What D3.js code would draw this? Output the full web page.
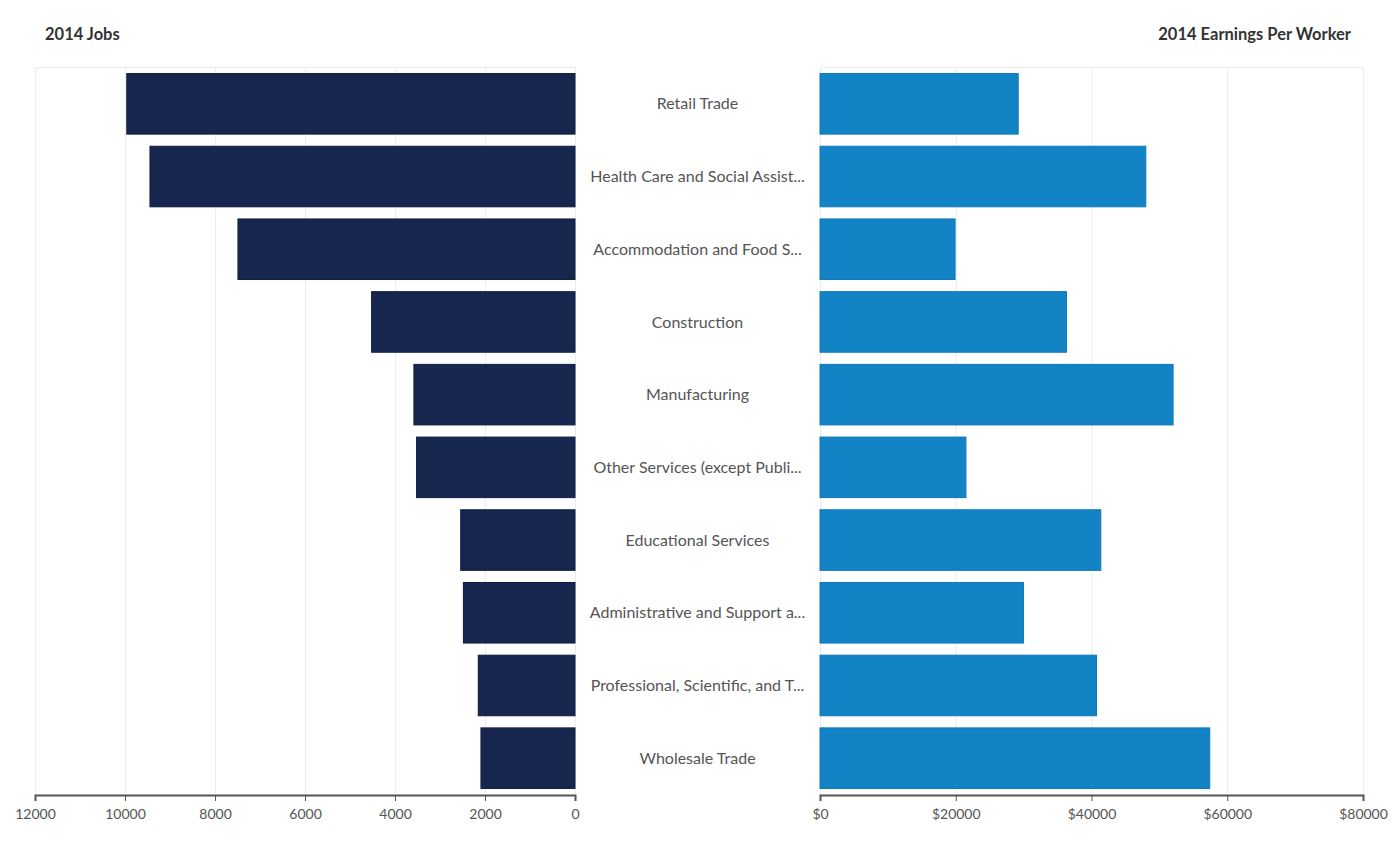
<!DOCTYPE html>
<html><head><meta charset="utf-8">
<script src="https://cdn.jsdelivr.net/npm/d3@7"></script>
<style>
body{margin:0;background:#fff;}
svg{display:block;font-family:Lato, "Open Sans", sans-serif;}
.axis path,.axis line{stroke:#555;}
.axis text{fill:#555;font-size:14px;font-family:Lato, sans-serif;}
</style></head><body>
<svg id="chart" width="1393" height="843"></svg>
<script>
const categories = ["Retail Trade","Health Care and Social Assist...","Accommodation and Food S...","Construction","Manufacturing","Other Services (except Publi...","Educational Services","Administrative and Support a...","Professional, Scientific, and T...","Wholesale Trade"];
const jobs2014 = [9960,9445,7490,4520,3580,3520,2540,2480,2150,2090];
const earnings2014 = [29200,48000,19900,36320,52020,21500,41370,29990,40740,57420];
const jobsTicks = [12000,10000,8000,6000,4000,2000,0];
const earningsTicks = [0,20000,40000,60000,80000];
const leftTitle = "2014 Jobs";
const rightTitle = "2014 Earnings Per Worker";

const svg = d3.select("#chart");
const plotTop = 67, plotBottom = 795;
const y = d3.scaleBand().domain(categories).range([plotTop, plotBottom]).paddingInner(0.167).paddingOuter(0.09);
const xL = d3.scaleLinear().domain([12000,0]).range([35,575]);
const xR = d3.scaleLinear().domain([0,80000]).range([820,1363]);

// gridlines
function grid(scale, ticks, x0, x1){
  const g = svg.append("g");
  g.selectAll("line.v").data(ticks).join("line")
    .attr("x1", d=>scale(d)+0.5).attr("x2", d=>scale(d)+0.5)
    .attr("y1", plotTop).attr("y2", plotBottom)
    .attr("stroke", "#ececec").attr("stroke-width", 1);
  g.append("line").attr("x1", x0).attr("x2", x1).attr("y1", plotTop+0.5).attr("y2", plotTop+0.5)
    .attr("stroke", "#ececec");
}
grid(xL, jobsTicks, 35, 575);
grid(xR, earningsTicks, 820, 1363);

// bars
svg.append("g").selectAll("rect").data(categories).join("rect")
  .attr("x", (d,i)=>xL(jobs2014[i]))
  .attr("y", d=>y(d))
  .attr("width", (d,i)=>xL(0)-xL(jobs2014[i]))
  .attr("height", y.bandwidth())
  .attr("fill", "#17264e").attr("stroke", "#101d40").attr("stroke-width", 1);

svg.append("g").selectAll("rect").data(categories).join("rect")
  .attr("x", xR(0))
  .attr("y", d=>y(d))
  .attr("width", (d,i)=>xR(earnings2014[i])-xR(0))
  .attr("height", y.bandwidth())
  .attr("fill", "#1283c4").attr("stroke", "#0d78b9").attr("stroke-width", 1);

// category labels
svg.append("g").selectAll("text").data(categories).join("text")
  .attr("x", 697.5).attr("y", d=>y(d)+y.bandwidth()/2)
  .attr("dy", "0.35em").attr("text-anchor", "middle")
  .attr("fill", "#555").style("font-size", "16px")
  .text(d=>d);

// axes
svg.append("g").attr("class","axis").attr("transform",`translate(0,${plotBottom})`)
  .call(d3.axisBottom(xL).tickValues(jobsTicks).tickFormat(d3.format("d")).tickSize(6).tickPadding(8));
svg.append("g").attr("class","axis").attr("transform",`translate(0,${plotBottom})`)
  .call(d3.axisBottom(xR).tickValues(earningsTicks).tickFormat(d=>"$"+d).tickSize(6).tickPadding(8));
svg.selectAll(".axis path").attr("stroke-width", 2);

// titles
svg.append("text").attr("x", 45).attr("y", 40).attr("fill", "#333")
  .style("font-size", "16.5px").style("font-weight", "bold").text(leftTitle);
svg.append("text").attr("x", 1351).attr("y", 40).attr("text-anchor", "end").attr("fill", "#333")
  .style("font-size", "16.5px").style("font-weight", "bold").text(rightTitle);
</script>
</body></html>
